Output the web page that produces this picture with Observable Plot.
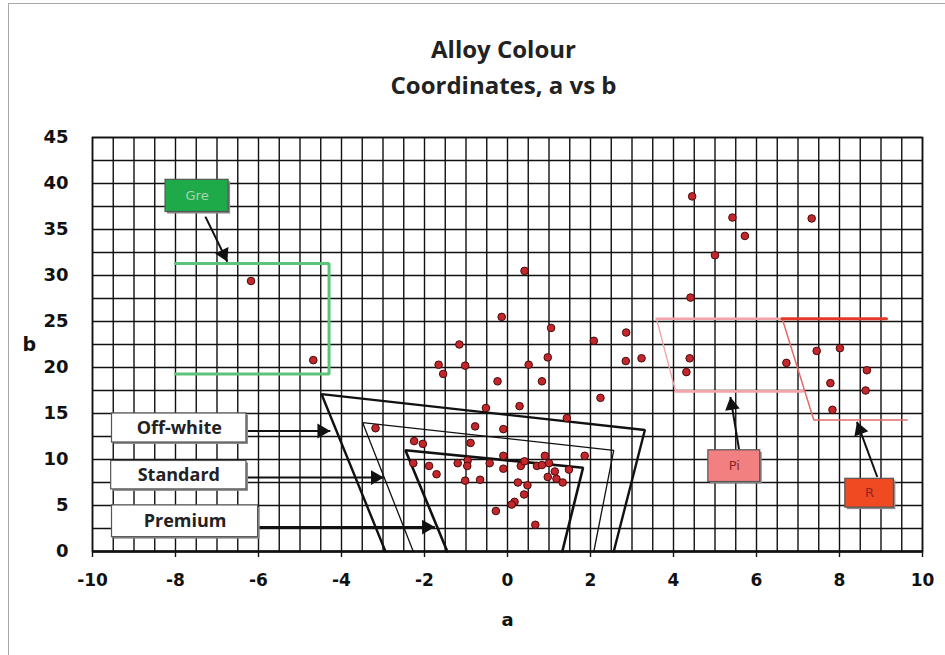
<!DOCTYPE html>
<html>
<head>
<meta charset="utf-8">
<script src="https://cdn.jsdelivr.net/npm/d3@7"></script>
<script src="https://cdn.jsdelivr.net/npm/@observablehq/plot@0.6"></script>
<style>
  body { margin: 0; background: #fff; }
  #wrap { position: relative; width: 945px; height: 655px; overflow: hidden; }
  #border { position: absolute; left: 8px; top: 3px; width: 940px; height: 660px; border-left: 1px solid #a8a8a8; border-top: 1px solid #a8a8a8; pointer-events: none; }
</style>
</head>
<body>
<div id="wrap"><div id="border"></div></div>
<script>
// ---- data ----
const titleLines = ["Alloy Colour", "Coordinates, a vs b"];
const xTicks = [-10, -8, -6, -4, -2, 0, 2, 4, 6, 8, 10];
const yTicks = [0, 5, 10, 15, 20, 25, 30, 35, 40, 45];
const xGrid = d3.range(-10, 10.001, 0.5);
const yGrid = d3.range(0, 45.001, 2.5);

// measured samples (a, b)
const sampleA = [0.41,-0.14,1.05,2.86,2.08,-1.16,-4.68,0.97,2.85,3.23,-1.66,-1.02,0.51,-1.55,-0.24,0.83,2.24,-0.52,0.29,1.43,-0.78,-0.10,-3.18,-0.89,-2.25,-2.04,-0.10,0.90,1.86,-0.96,-2.27,-1.89,-1.20,-0.97,-0.43,-0.10,0.32,0.41,0.71,0.83,1.00,1.14,1.48,0.97,1.18,1.33,-1.71,-1.02,-0.66,0.25,0.48,0.40,0.17,0.10,-0.28,0.67,-6.18,4.45,5.42,7.33,5.72,5.00,4.41,4.39,4.31,7.45,8.01,6.72,8.66,7.78,8.63,7.83];
const sampleB = [30.5,25.5,24.3,23.8,22.9,22.5,20.8,21.1,20.7,21.0,20.3,20.2,20.3,19.3,18.5,18.5,16.7,15.6,15.8,14.5,13.6,13.3,13.4,11.8,12.0,11.7,10.4,10.4,10.4,9.9,9.6,9.3,9.6,9.3,9.6,9.0,9.3,9.8,9.3,9.4,9.6,8.7,8.9,8.1,7.9,7.5,8.4,7.7,7.8,7.5,7.2,6.2,5.4,5.1,4.4,2.9,29.4,38.6,36.3,36.2,34.3,32.2,27.6,21.0,19.5,21.8,22.1,20.5,19.7,18.3,17.5,15.4];
const samples = sampleA.map((a, i) => ({a, b: sampleB[i]}));

// colour-region outlines: [name, a, b]
const regionName = ["off","off","off","off","std","std","std","std","prem","prem","prem","prem","gre","gre","gre","gre","piTop","piTop","piSlant","piSlant","piBot","piBot","rSlant","rSlant","rSlant","rTop","rTop"];
const regionA = [-2.94,-4.48,3.31,2.56, -2.27,-3.49,2.56,2.08, -1.45,-2.46,1.82,1.32, -8,-4.3,-4.3,-8, 3.59,6.62, 3.59,4.05, 4.05,7.12, 6.62,7.38,9.63, 6.62,9.13];
const regionB = [0,17.1,13.2,0, 0,14.0,11.0,0, 0,11.0,9.1,0, 31.3,31.3,19.3,19.3, 25.3,25.3, 25.3,17.4, 17.4,17.4, 25.3,14.3,14.3, 25.3,25.3];
const regionStyle = {
  off: ["#111", 2.4], std: ["#111", 1.3], prem: ["#111", 2.6], gre: ["#5cc47a", 3],
  piTop: ["#f4a3aa", 2.6], piSlant: ["#f0a0a8", 1.3], piBot: ["#f4a3aa", 2.6],
  rSlant: ["#e46c6c", 1.5], rTop: ["#e6392b", 3.2]
};
const regions = regionName.map((n, i) => ({n, a: regionA[i], b: regionB[i]}));

// label boxes
const boxText = ["Off-white", "Standard", "Premium", "Gre", "Pi", "R"];
const boxA1 = [-9.53, -9.55, -9.53, -8.24, 4.84, 8.14];
const boxA2 = [-6.29, -6.29, -6.01, -6.72, 6.09, 9.31];
const boxB1 = [11.85, 6.75, 1.56, 36.9, 7.55, 4.77];
const boxB2 = [15.0, 9.84, 5.01, 40.4, 11.0, 7.9];
const boxFill = ["#fff", "#fff", "#fff", "#1faa4a", "#f28080", "#f04a22"];
const boxInk = ["#222", "#222", "#222", "#a6d6b0", "#8e2626", "#8e2626"];
const boxes = boxText.map((t, i) => ({t, a1: boxA1[i], a2: boxA2[i], b1: boxB1[i], b2: boxB2[i], fill: boxFill[i], ink: boxInk[i]}));

// arrows from label to region
const arrA1 = [-6.29, -6.29, -6.01, -7.28, 5.58, 8.91];
const arrB1 = [13.1, 8.03, 2.65, 36.4, 11.1, 8.1];
const arrA2 = [-4.27, -2.98, -1.75, -6.75, 5.37, 8.42];
const arrB2 = [13.1, 8.03, 2.65, 31.5, 16.8, 14.1];
const arrows = arrA1.map((a1, i) => ({a1, b1: arrB1[i], a2: arrA2[i], b2: arrB2[i]}));

// ---- chart ----
const base = {
  width: 945, height: 655,
  marginLeft: 92, marginRight: 23, marginTop: 137, marginBottom: 104,
  x: {domain: [-10, 10], axis: null},
  y: {domain: [0, 45], axis: null}
};
const probe = Plot.plot({...base, marks: []});
const sx = probe.scale("x"), sy = probe.scale("y");
const lin = s => {
  const [d0, d1] = s.domain, [r0, r1] = s.range;
  return {
    f: v => r0 + (v - d0) / (d1 - d0) * (r1 - r0),
    inv: p => d0 + (p - r0) / (r1 - r0) * (d1 - d0)
  };
};
const X = lin(sx), Y = lin(sy);
const headR = 5.5;
const tipBack = 2 * Math.sqrt(Math.PI * headR * headR / (Math.sqrt(3) * 3));
const heads = arrows.map(d => {
  const x1 = X.f(d.a1), y1 = Y.f(d.b1), x2 = X.f(d.a2), y2 = Y.f(d.b2);
  const ang = Math.atan2(y2 - y1, x2 - x1);
  return {
    a: X.inv(x2 - tipBack * Math.cos(ang)),
    b: Y.inv(y2 - tipBack * Math.sin(ang)),
    rot: ang * 180 / Math.PI + 90
  };
});

const tickFont = "'DejaVu Sans', 'Liberation Sans', sans-serif";
const labelFont = "'Open Sans', 'Noto Sans', sans-serif";

const marks = [
  Plot.ruleX(xGrid, {stroke: "#111", strokeWidth: 1.4}),
  Plot.ruleY(yGrid, {stroke: "#111", strokeWidth: 1.4}),
  Plot.frame({stroke: "#111", strokeWidth: 1.6}),
  Plot.ruleY([0], {stroke: "#111", strokeWidth: 2.4}),
  Plot.ruleX(xTicks, {y1: 0, y2: -0.65, stroke: "#111", strokeWidth: 1.4, clip: false}),
];
for (const n of Object.keys(regionStyle)) {
  marks.push(Plot.line(regions.filter(d => d.n === n), {
    x: "a", y: "b", stroke: regionStyle[n][0], strokeWidth: regionStyle[n][1], strokeLinejoin: "miter"
  }));
}
marks.push(
  Plot.link(arrows, {x1: "a1", y1: "b1", x2: "a2", y2: "b2", stroke: "#111", strokeWidth: 2}),
  Plot.dot(heads, {x: "a", y: "b", symbol: "triangle", r: headR, fill: "#111", stroke: "none", rotate: "rot"}),
  Plot.rect(boxes, {x1: "a1", x2: "a2", y1: "b1", y2: "b2", fill: "#8a8a8a", dx: 2, dy: 2}),
  Plot.rect(boxes, {x1: "a1", x2: "a2", y1: "b1", y2: "b2", fill: "fill", stroke: "#555", strokeWidth: 1.2}),
  Plot.text(boxes.slice(0, 3), {x: d => (d.a1 + d.a2) / 2, y: d => (d.b1 + d.b2) / 2, text: "t", fill: "ink",
    fontFamily: labelFont, fontWeight: 700, fontSize: 18}),
  Plot.text(boxes.slice(3), {x: d => (d.a1 + d.a2) / 2, y: d => (d.b1 + d.b2) / 2, text: "t", fill: "ink",
    fontFamily: "'DejaVu Sans', sans-serif", fontSize: 13}),
  Plot.dot(samples, {x: "a", y: "b", r: 3.8, fill: "#c3272b", stroke: "#4a0a0a", strokeWidth: 1}),
  // tick labels
  Plot.text(yTicks, {x: -10, y: d => d, text: d => String(d), dx: -24, textAnchor: "end",
    fontFamily: tickFont, fontWeight: 700, fontSize: 18, fill: "#111"}),
  Plot.text(xTicks, {x: d => d, y: 0, text: d => String(d), dy: 29,
    fontFamily: tickFont, fontWeight: 700, fontSize: 17, fill: "#111"}),
  // axis titles
  Plot.text(["b"], {frameAnchor: "left", dx: -70, text: d => d, fontFamily: tickFont, fontWeight: 700, fontSize: 19, fill: "#111"}),
  Plot.text(["a"], {frameAnchor: "bottom", dy: 74, text: d => d, fontFamily: tickFont, fontWeight: 700, fontSize: 18, fill: "#111"}),
  // title
  Plot.text([titleLines[0]], {frameAnchor: "top", dx: -4, dy: -97, text: d => d, fontFamily: labelFont, fontWeight: 700, fontSize: 24, fill: "#222"}),
  Plot.text([titleLines[1]], {frameAnchor: "top", dx: -4, dy: -61, text: d => d, fontFamily: labelFont, fontWeight: 700, fontSize: 24, fill: "#222"})
);

const chart = Plot.plot({...base, style: {background: "transparent"}, marks});
document.getElementById("wrap").appendChild(chart);
</script>
</body>
</html>
